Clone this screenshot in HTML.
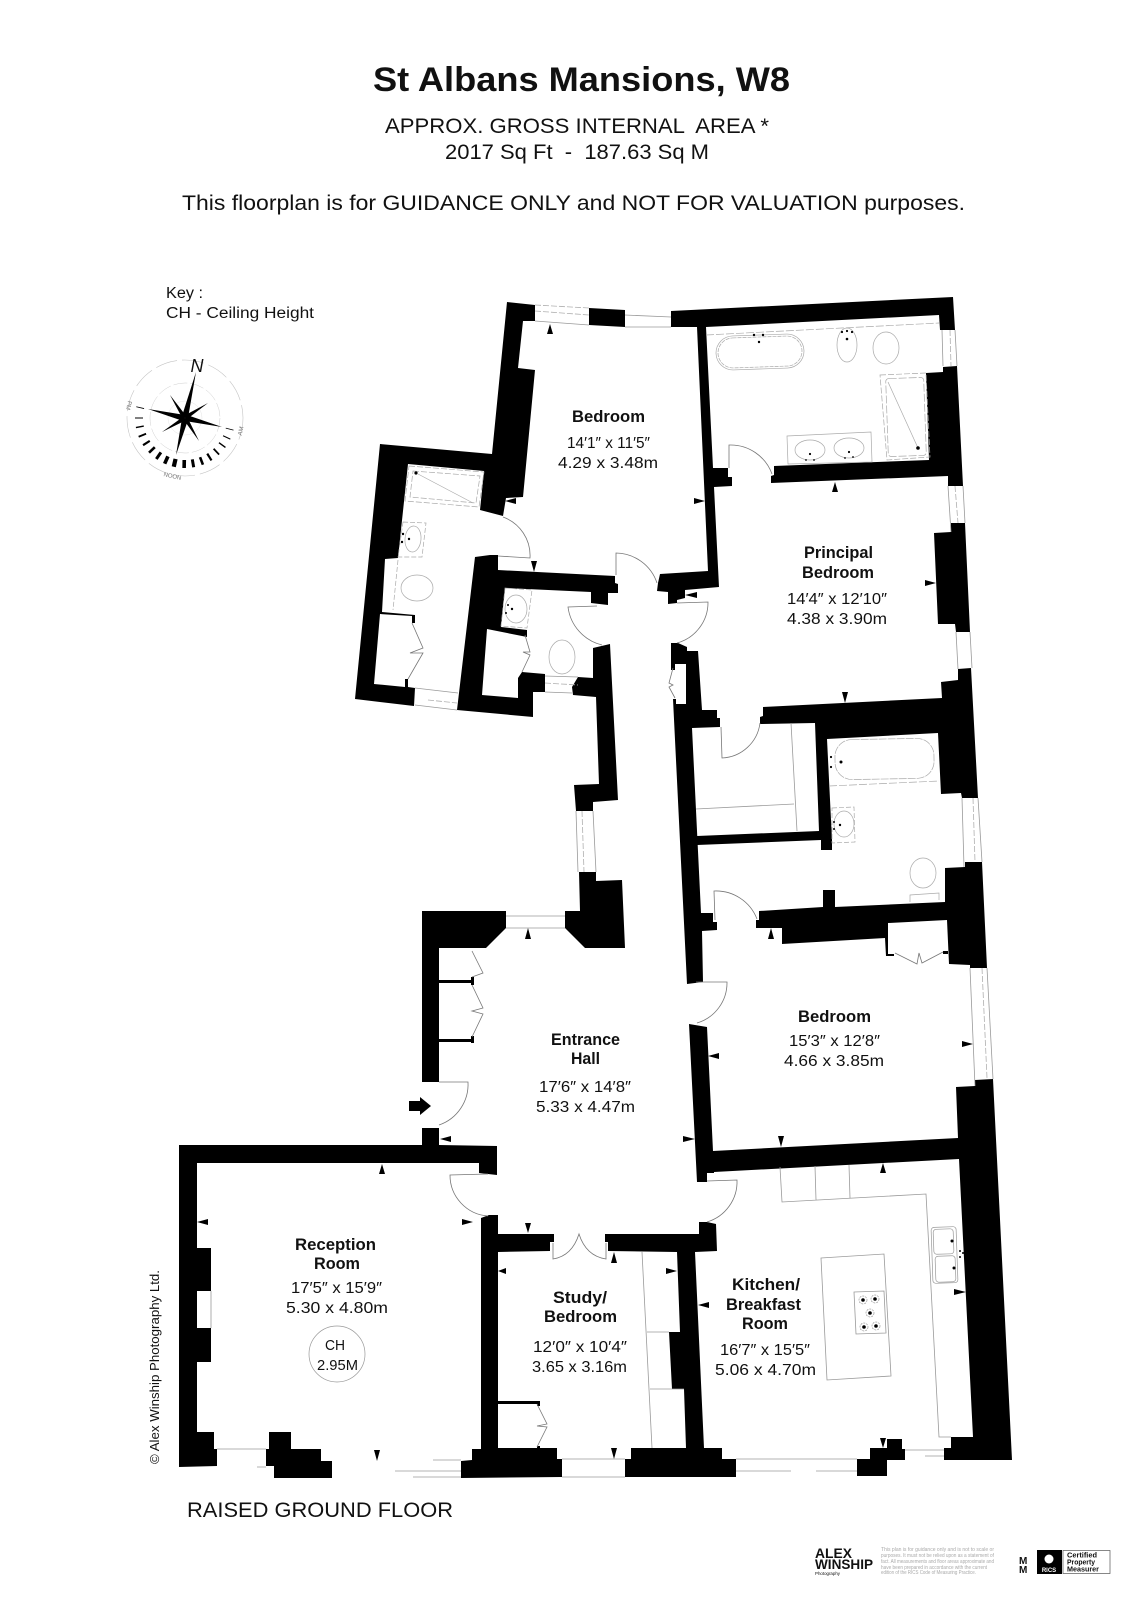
<!DOCTYPE html>
<html><head><meta charset="utf-8"><title>St Albans Mansions, W8</title>
<style>
html,body{margin:0;padding:0;background:#fff}
svg{display:block}
text{font-family:"Liberation Sans",sans-serif;fill:#111}
text.g{fill:#aaa}
text.p{fill:#777}
text.wt{fill:#fff}
.b{font-weight:700;font-size:16.5px;text-anchor:start}
.r{font-size:16px}
.w{fill:#000;stroke:none}
.l{fill:none;stroke:#9a9a9a;stroke-width:.8}
.d{fill:none;stroke:#b0b0b0;stroke-width:.8;stroke-dasharray:6 2}
.a{fill:none;stroke:#777;stroke-width:.8}
.t{fill:#000;stroke:none}
</style></head><body>
<svg xmlns="http://www.w3.org/2000/svg" width="1130" height="1600" viewBox="0 0 1130 1600">
<rect width="1130" height="1600" fill="#fff"/>

<!-- Header -->
<text x="373" y="91" font-size="34" font-weight="700" textLength="417" lengthAdjust="spacingAndGlyphs">St Albans Mansions, W8</text>
<text x="385" y="133" font-size="21" textLength="384" lengthAdjust="spacingAndGlyphs" xml:space="preserve">APPROX. GROSS INTERNAL  AREA *</text>
<text x="445" y="159" font-size="21" textLength="264" lengthAdjust="spacingAndGlyphs" xml:space="preserve">2017 Sq Ft  -  187.63 Sq M</text>
<text x="182" y="210" font-size="21" textLength="783" lengthAdjust="spacingAndGlyphs">This floorplan is for GUIDANCE ONLY and NOT FOR VALUATION purposes.</text>
<text x="166" y="298" font-size="15.5" textLength="37" lengthAdjust="spacingAndGlyphs">Key :</text>
<text x="166" y="318" font-size="15.5" textLength="148" lengthAdjust="spacingAndGlyphs">CH - Ceiling Height</text>

<!-- Compass -->
<g transform="translate(185,418)">
<circle r="58" fill="none" stroke="#c4c4c4" stroke-width=".6" stroke-dasharray="22 5"/>
<circle r="35" fill="none" stroke="#d0d0d0" stroke-width=".5" stroke-dasharray="14 3"/>
<circle r="17" fill="none" stroke="#ddd" stroke-width=".4"/>
<g fill="#000">
<polygon points="11,-46 3,0 -3,-2"/><polygon points="-9,37 -3,0 3,2"/>
<polygon points="-37,-9 0,-3 -2,3"/><polygon points="37,9 0,3 2,-3"/>
<polygon points="-15,-23 1.5,-1.5 -2,1.5"/><polygon points="14,23 -1.5,1.5 2,-1.5"/>
<polygon points="23,-15 1.5,1.5 -1.5,-2"/><polygon points="-23,14 -1.5,-1.5 1.5,2"/>
</g>
<g fill="#000">
<rect x="-.4" y="42" width=".8" height="8" transform="rotate(-76)"/>
<rect x="-.5" y="42" width="1" height="8" transform="rotate(-65)"/>
<rect x="-.7" y="42" width="1.4" height="8" transform="rotate(-54)"/>
<rect x="-.9" y="42" width="1.8" height="8" transform="rotate(-43)"/>
<rect x="-1.1" y="42" width="2.2" height="8" transform="rotate(-32)"/>
<rect x="-1.3" y="42" width="2.6" height="8" transform="rotate(-21)"/>
<rect x="-1.5" y="42" width="3" height="8" transform="rotate(-10)"/>
<rect x="-1.8" y="42" width="3.6" height="8" transform="rotate(1)"/>
<rect x="-2.1" y="42" width="4.2" height="8" transform="rotate(13)"/>
<rect x="-1.8" y="42" width="3.6" height="8" transform="rotate(24)"/>
<rect x="-1.5" y="42" width="3" height="8" transform="rotate(35)"/>
<rect x="-1.3" y="42" width="2.6" height="8" transform="rotate(46)"/>
<rect x="-1.1" y="42" width="2.2" height="8" transform="rotate(57)"/>
<rect x="-.9" y="42" width="1.8" height="8" transform="rotate(68)"/>
<rect x="-.7" y="42" width="1.4" height="8" transform="rotate(79)"/>
<rect x="-.5" y="42" width="1" height="8" transform="rotate(90)"/>
<rect x="-.4" y="42" width=".8" height="8" transform="rotate(103)"/>
</g>
</g>
<text x="197" y="372" font-size="18" text-anchor="middle" font-style="italic">N</text>
<text class="p" transform="translate(127,405) rotate(103)" font-size="6" text-anchor="middle">PM</text>
<text class="p" transform="translate(241,431) rotate(-76)" font-size="6" text-anchor="middle" dominant-baseline="middle">AM</text>
<text class="p" transform="translate(172,478) rotate(13)" font-size="6" text-anchor="middle">NOON</text>

<!-- Walls -->
<g class="w">
<polygon points="507,302 535,305 535,321 523,321 518,368 535,370 523,497 506,498 503,516 480,510 484,471 408,464 398,558 385,559 382,612 415,615 415,623 412,623 412,616 380,614 374,684 405,687 405,679 408,679 408,687 415,688 414,706 355,699 380,444 492,454"/>
<polygon points="589,308 625,310 625,327 589,325"/>
<polygon points="671,311 953,297 955,330 940,330 939,315 706,327 713,468 728,468 728,477 732,477 732,486 714,487 719,587 685,590 685,598 677,600 677,603 668,604 668,592 657,591 658,583 660,574 708,571 697,327 671,327"/>
<polygon points="475,557 490,555 498,555 498,570 615,576 615,583 618,584 618,593 608,593 608,605 591,603 591,592 505,588 501,627 527,630 527,637 487,629 482,695 518,698 518,678 522,672 545,674 545,692 533,692 533,717 457,710"/>
<polygon points="572,687 578,677 593,678 593,648 610,644 618,800 593,802 593,811 576,811 574,785 599,784 596,697 573,695"/>
<polygon points="579,872 596,872 596,881 622,880 625,948 585,948 565,928 565,911 580,911"/>
<polygon points="422,911 506,911 506,928 486,948 439,948 439,1082 422,1082"/>
<rect x="439" y="980" width="34" height="3"/><rect x="471" y="977" width="3" height="8"/>
<rect x="439" y="1039" width="34" height="3"/><rect x="471" y="1036" width="3" height="7"/>
<polygon points="422,1128 439,1128 439,1145 497,1146 497,1175 479,1173 479,1163 197,1163 197,1248 211,1248 211,1291 197,1291 197,1328 211,1328 211,1362 197,1362 197,1432 214,1432 214,1449 217,1449 217,1466 179,1467 179,1145 422,1145"/>
<polygon points="269,1432 291,1432 291,1449 321,1449 321,1461 332,1461 332,1478 274,1478 274,1466 266,1466 266,1449 269,1449"/>
<polygon points="481,1218 489,1215 498,1215 498,1234 554,1234 554,1242 550,1242 550,1251 498,1252 498,1448 557,1448 557,1459 562,1459 562,1477 461,1478 461,1461 472,1460 472,1449 481,1449"/>
<rect x="498" y="1401" width="42" height="3"/><rect x="537" y="1401" width="3" height="5"/><rect x="537" y="1446" width="3" height="3"/>
<polygon points="605,1234 699,1234 699,1222 707,1222 716,1224 717,1251 695,1252 704,1448 722,1448 722,1459 736,1459 736,1477 625,1477 625,1459 631,1459 631,1448 686,1448 684,1389 672,1389 669,1332 680,1332 677,1252 608,1251 608,1242 605,1242"/>
<polygon points="887,1439 902,1439 902,1449 905,1449 905,1460 887,1460 887,1476 857,1476 857,1459 870,1459 870,1448 887,1448"/>
<polygon points="943,367 957,366 963,486 948,486 948,476 771,483 771,476 774,475 774,466 929,460 926,373 943,372"/>
<polygon points="951,523 965,523 970,632 956,632 955,624 938,624 934,533 951,532"/>
<polygon points="958,669 971,668 978,798 962,798 961,793 941,794 938,733 827,739 832,840 832,850 821,850 821,840 697,845 697,836 819,831 815,723 760,724 760,717 763,716 763,707 942,698 941,682 958,680"/>
<polygon points="671,643 678,643 687,647 687,651 698,651 702,710 717,710 717,718 720,718 720,727 692,728 701,913 713,913 713,922 717,922 717,930 702,931 703,982 687,984 673,699 676,699 676,704 686,704 686,664 675,664 675,670 671,670"/>
<polygon points="759,911 823,907 823,890 835,890 835,907 945,902 945,868 965,867 965,862 982,862 987,968 970,968 970,965 949,964 947,920 888,923 888,954 894,954 894,956 886,956 885,938 782,944 782,928 756,928 756,920 759,920"/>
<rect x="943" y="951" width="5" height="3"/>
<polygon points="689,1024 707,1027 713,1151 958,1138 956,1087 975,1086 975,1080 993,1079 1012,1460 944,1460 944,1448 951,1448 951,1437 973,1437 959,1159 714,1172 714,1173 707,1173 707,1182 697,1182"/>
<polygon points="409,1101 420,1101 420,1097 431,1106 420,1115 420,1111 409,1111"/>
</g>

<!-- Doors -->
<g class="a">
<path d="M503,517A41,41 0 0 1 530,558L498,556"/>
<path d="M616,575V553A44,44 0 0 1 657,583"/>
<path d="M597,606L568,607A45,45 0 0 0 602,645"/>
<path d="M677,603L708,602A42,42 0 0 1 677,643"/>
<path d="M729,468V445A44,44 0 0 1 772,474"/>
<path d="M721,727L722,758A40,40 0 0 0 760,723"/>
<path d="M715,920L714,891A44,44 0 0 1 757,919"/>
<path d="M696,982H727A42,42 0 0 1 697,1023"/>
<path d="M439,1082H468A43,43 0 0 1 439,1125"/>
<path d="M488,1174L450,1175A41,41 0 0 0 488,1216"/>
<path d="M553,1243V1259Q572,1256 579,1234Q586,1256 606,1259V1243"/>
<path d="M707,1181L737,1180A42,42 0 0 1 707,1222"/>
<!-- bifolds -->
<path d="M412,623L423,648L410,653L423,653L408,679"/>
<path d="M525,635L530,652L523,652L530,655L522,672"/>
<path d="M673,668L669,683L673,685L669,687L675,698"/>
<path d="M472,951L483,973L472,977"/>
<path d="M472,985L483,1008L472,1011L483,1014L472,1037"/>
<path d="M895,953L917,964L919,953L922,963L943,952"/>
<path d="M537,1404L547,1424L537,1426L547,1427L537,1447"/>
</g>

<!-- Windows -->
<g class="l">
<path d="M535,321L589,325M625,315L671,317M625,327L671,327"/>
<path d="M415,705L457,710M415,688L458,693M545,692L572,693M545,676L578,677"/>
<path d="M955,330L957,366M942,330L943,366M948,486L951,532M963,486L965,523M956,632L958,669M970,632L972,668"/>
<path d="M576,811L578,872M593,811L596,872M506,916H565M506,928H565"/>
<path d="M962,798L964,867M978,798L982,862M970,968L975,1086M987,968L993,1079"/>
<path d="M211,1291V1328M217,1449H266M257,1467H266M395,1471H461M433,1460H461M413,1477H461"/>
<path d="M562,1459H625M562,1477H625M736,1459H857M736,1471H791M816,1471H857M905,1450H944M925,1456H944"/>
<!-- Kitchen units -->
<path d="M780,1167L782,1202L926,1194L939,1437L951,1437M815,1166L816,1200M849,1165L850,1198"/>
<polygon points="821,1258 884,1254 891,1376 827,1380"/>
<polygon points="854,1292 884,1291 886,1333 856,1334"/>
<path d="M642,1252L652,1448M647,1332H669M650,1389H684"/>
<path d="M791,723L797,831M696,809L794,804"/>
</g>
<g class="d">
<path d="M535,305L589,308M535,311L589,315M428,700L457,703M545,683L578,685"/>
<path d="M950,330L951,366M955,486L958,523M582,811L584,872M973,798L975,862M982,968L987,1078"/>
</g>

<!-- Kitchen sink, hob -->
<g fill="none" stroke="#999" stroke-width=".7">
<rect x="932" y="1227" width="25" height="56" rx="3" transform="rotate(-2 945 1255)"/>
<rect x="934" y="1229" width="20" height="25" rx="3" transform="rotate(-2 945 1255)"/>
<rect x="935" y="1256" width="20" height="26" rx="3" transform="rotate(-2 945 1255)"/>
<circle cx="863" cy="1300" r="4" stroke-dasharray="2 1"/><circle cx="875" cy="1299" r="4" stroke-dasharray="2 1"/><circle cx="870" cy="1313" r="4" stroke-dasharray="2 1"/><circle cx="864" cy="1327" r="4" stroke-dasharray="2 1"/><circle cx="876" cy="1326" r="4" stroke-dasharray="2 1"/>
</g>
<g fill="#000">
<circle cx="952" cy="1241" r="1.5"/><circle cx="954" cy="1268" r="1.5"/><circle cx="960" cy="1251" r="1"/><circle cx="960" cy="1257" r="1"/><circle cx="963" cy="1253" r="1"/>
<circle cx="863" cy="1300" r="1.8"/><circle cx="875" cy="1299" r="1.8"/><circle cx="870" cy="1313" r="1.8"/><circle cx="864" cy="1327" r="1.8"/><circle cx="876" cy="1326" r="1.8"/>
</g>

<!-- Sanitary -->
<g fill="none" stroke="#aaa" stroke-width=".7">
<!-- ensuite -->
<polygon points="409,466 484,472 479,507 405,501" stroke-dasharray="6 2"/>
<polygon points="413,471 480,476 476,503 410,497" stroke-dasharray="6 2"/>
<path d="M418,474L473,503"/>
<polygon points="403,522 426,523 422,557 398,557" stroke-dasharray="5 2"/>
<ellipse cx="413" cy="539" rx="8" ry="13" transform="rotate(5 413 539)"/>
<path d="M398,560L393,610" stroke-dasharray="5 2"/>
<ellipse cx="417" cy="588" rx="16" ry="13"/>
<!-- wc -->
<polygon points="505,588 532,590 527,628 501,626" stroke-dasharray="5 2"/>
<ellipse cx="516" cy="609" rx="11" ry="14"/>
<ellipse cx="562" cy="657" rx="13" ry="17"/>
<!-- principal bath -->
<path d="M706,335L939,323" stroke-dasharray="8 2"/>
<rect x="716" y="335" width="88" height="34" rx="17" transform="rotate(-2 760 352)"/>
<rect x="718" y="337" width="84" height="30" rx="15" transform="rotate(-2 760 352)" stroke-dasharray="4 1"/>
<ellipse cx="847" cy="345" rx="10" ry="17"/>
<ellipse cx="886" cy="348" rx="13" ry="16"/>
<polygon points="880,375 926,373 930,457 887,460" stroke-dasharray="6 2"/>
<rect x="887" y="378" width="38" height="78" rx="3" stroke-dasharray="8 2" transform="rotate(-2 906 417)"/>
<path d="M888,382L918,448"/>
<polygon points="787,436 871,432 872,462 788,464"/>
<ellipse cx="810" cy="450" rx="15" ry="10"/><ellipse cx="849" cy="448" rx="15" ry="10"/>
<!-- second bath -->
<rect x="835" y="739" width="99" height="40" rx="17" transform="rotate(-1 884 759)" stroke-dasharray="8 1"/>
<path d="M829,786L939,781" stroke-dasharray="8 2"/>
<polygon points="832,808 854,807 855,842 832,843" stroke-dasharray="5 2"/>
<ellipse cx="844" cy="824" rx="10" ry="13"/>
<ellipse cx="923" cy="873" rx="13" ry="15"/>
<path d="M910,902V895L939,893V900"/>
</g>
<g fill="#000">
<circle cx="416" cy="473" r="1.6"/><circle cx="403" cy="534" r="1.2"/><circle cx="402" cy="542" r="1.2"/><circle cx="409" cy="539" r="1.2"/>
<circle cx="508" cy="605" r="1"/><circle cx="506" cy="613" r="1"/><circle cx="512" cy="609" r="1.2"/>
<circle cx="754" cy="335" r="1.2"/><circle cx="763" cy="335" r="1.2"/><circle cx="759" cy="342" r="1.2"/>
<circle cx="842" cy="332" r="1.1"/><circle cx="847" cy="331" r="1.1"/><circle cx="852" cy="332" r="1.1"/><circle cx="847" cy="339" r="1.3"/>
<circle cx="918" cy="448" r="1.8"/>
<circle cx="810" cy="454" r="1.1"/><circle cx="806" cy="460" r=".9"/><circle cx="814" cy="460" r=".9"/>
<circle cx="849" cy="452" r="1.1"/><circle cx="845" cy="458" r=".9"/><circle cx="853" cy="457" r=".9"/>
<circle cx="831" cy="757" r="1.1"/><circle cx="831" cy="767" r="1.1"/><circle cx="841" cy="762" r="1.5"/>
<circle cx="834" cy="822" r="1"/><circle cx="834" cy="829" r="1"/><circle cx="840" cy="825" r="1.2"/>
</g>

<!-- Dimension ticks -->
<g class="t">
<polygon points="550,324 547,334 553,334"/><polygon points="835,482 832,492 838,492"/><polygon points="528,928 525,939 531,939"/><polygon points="771,928 768,939 774,939"/><polygon points="382,1164 379,1174 385,1174"/><polygon points="614,1252 611,1263 617,1263"/><polygon points="883,1163 880,1173 886,1173"/>
<polygon points="534,572 531,561 537,561"/><polygon points="845,703 842,692 848,692"/><polygon points="781,1147 778,1136 784,1136"/><polygon points="377,1461 374,1450 380,1450"/><polygon points="528,1233 525,1223 531,1223"/><polygon points="614,1459 611,1448 617,1448"/><polygon points="883,1448 880,1438 886,1438"/>
<polygon points="505,501 516,498 516,504"/><polygon points="685,595 697,592 697,598"/><polygon points="708,1056 719,1053 719,1059"/><polygon points="440,1139 451,1136 451,1142"/><polygon points="197,1222 208,1219 208,1225"/><polygon points="498,1271 506,1268 506,1274"/><polygon points="698,1305 709,1302 709,1308"/>
<polygon points="705,501 694,498 694,504"/><polygon points="936,583 925,580 925,586"/><polygon points="695,1139 683,1136 683,1142"/><polygon points="973,1044 962,1041 962,1047"/><polygon points="473,1222 462,1219 462,1225"/><polygon points="677,1271 666,1268 666,1274"/><polygon points="966,1292 954,1289 954,1295"/>
</g>

<!-- Room labels -->
<text class="b" x="572" y="422" textLength="73" lengthAdjust="spacingAndGlyphs">Bedroom</text>
<text class="r" x="567" y="448" textLength="83" lengthAdjust="spacingAndGlyphs">14′1″ x 11′5″</text>
<text class="r" x="558" y="468" textLength="100" lengthAdjust="spacingAndGlyphs">4.29 x 3.48m</text>

<text class="b" x="804" y="558" textLength="69" lengthAdjust="spacingAndGlyphs">Principal</text>
<text class="b" x="802" y="578" textLength="72" lengthAdjust="spacingAndGlyphs">Bedroom</text>
<text class="r" x="787" y="604" textLength="100" lengthAdjust="spacingAndGlyphs">14′4″ x 12′10″</text>
<text class="r" x="787" y="624" textLength="100" lengthAdjust="spacingAndGlyphs">4.38 x 3.90m</text>

<text class="b" x="551" y="1045" textLength="69" lengthAdjust="spacingAndGlyphs">Entrance</text>
<text class="b" x="571" y="1064" textLength="29" lengthAdjust="spacingAndGlyphs">Hall</text>
<text class="r" x="539" y="1092" textLength="92" lengthAdjust="spacingAndGlyphs">17′6″ x 14′8″</text>
<text class="r" x="536" y="1112" textLength="99" lengthAdjust="spacingAndGlyphs">5.33 x 4.47m</text>

<text class="b" x="798" y="1022" textLength="73" lengthAdjust="spacingAndGlyphs">Bedroom</text>
<text class="r" x="789" y="1046" textLength="91" lengthAdjust="spacingAndGlyphs">15′3″ x 12′8″</text>
<text class="r" x="784" y="1066" textLength="100" lengthAdjust="spacingAndGlyphs">4.66 x 3.85m</text>

<text class="b" x="295" y="1250" textLength="81" lengthAdjust="spacingAndGlyphs">Reception</text>
<text class="b" x="314" y="1269" textLength="46" lengthAdjust="spacingAndGlyphs">Room</text>
<text class="r" x="291" y="1293" textLength="91" lengthAdjust="spacingAndGlyphs">17′5″ x 15′9″</text>
<text class="r" x="286" y="1313" textLength="102" lengthAdjust="spacingAndGlyphs">5.30 x 4.80m</text>
<circle cx="337" cy="1354" r="28" fill="none" stroke="#999" stroke-width=".7"/>
<text x="325" y="1350" font-size="15" textLength="20" lengthAdjust="spacingAndGlyphs">CH</text>
<text x="317" y="1370" font-size="15" textLength="41" lengthAdjust="spacingAndGlyphs">2.95M</text>

<text class="b" x="553" y="1303" textLength="54" lengthAdjust="spacingAndGlyphs">Study/</text>
<text class="b" x="544" y="1322" textLength="73" lengthAdjust="spacingAndGlyphs">Bedroom</text>
<text class="r" x="533" y="1352" textLength="94" lengthAdjust="spacingAndGlyphs">12′0″ x 10′4″</text>
<text class="r" x="532" y="1372" textLength="95" lengthAdjust="spacingAndGlyphs">3.65 x 3.16m</text>

<text class="b" x="732" y="1290" textLength="68" lengthAdjust="spacingAndGlyphs">Kitchen/</text>
<text class="b" x="726" y="1310" textLength="75" lengthAdjust="spacingAndGlyphs">Breakfast</text>
<text class="b" x="742" y="1329" textLength="46" lengthAdjust="spacingAndGlyphs">Room</text>
<text class="r" x="720" y="1355" textLength="90" lengthAdjust="spacingAndGlyphs">16′7″ x 15′5″</text>
<text class="r" x="715" y="1375" textLength="101" lengthAdjust="spacingAndGlyphs">5.06 x 4.70m</text>

<text x="187" y="1517" font-size="21" textLength="266" lengthAdjust="spacingAndGlyphs">RAISED GROUND FLOOR</text>
<text transform="translate(159,1464) rotate(-90)" font-size="12.5" textLength="194" lengthAdjust="spacingAndGlyphs">© Alex Winship Photography Ltd.</text>

<!-- Footer -->
<text x="815" y="1558" font-size="14" font-weight="700" textLength="37" lengthAdjust="spacingAndGlyphs">ALEX</text>
<text x="815" y="1569" font-size="14" font-weight="700" textLength="58" lengthAdjust="spacingAndGlyphs">WINSHIP</text>
<text x="815" y="1575" font-size="4.5" textLength="25" lengthAdjust="spacingAndGlyphs">Photography</text>
<g font-size="5">
<text class="g" x="881" y="1551" textLength="113" lengthAdjust="spacingAndGlyphs">This plan is for guidance only and is not to scale or</text>
<text class="g" x="881" y="1557" textLength="113" lengthAdjust="spacingAndGlyphs">purposes. It must not be relied upon as a statement of</text>
<text class="g" x="881" y="1563" textLength="113" lengthAdjust="spacingAndGlyphs">fact. All measurements and floor areas approximate and</text>
<text class="g" x="881" y="1569" textLength="106" lengthAdjust="spacingAndGlyphs">have been prepared in accordance with the current</text>
<text class="g" x="881" y="1574" textLength="95" lengthAdjust="spacingAndGlyphs">edition of the RICS Code of Measuring Practice.</text>
</g>
<text x="1019" y="1564" font-size="10" font-weight="700">M</text><text x="1019" y="1573" font-size="10" font-weight="700">M</text>
<rect x="1037" y="1550" width="25" height="24" fill="#000"/>
<circle cx="1049" cy="1559" r="4.5" fill="#fff"/>
<text class="wt" x="1049" y="1572" font-size="6" font-weight="700" text-anchor="middle">RICS</text>
<rect x="1063" y="1550.5" width="47" height="23" fill="none" stroke="#555" stroke-width=".7"/>
<g font-size="7" font-weight="700">
<text x="1067" y="1557.5" textLength="30" lengthAdjust="spacingAndGlyphs">Certified</text>
<text x="1067" y="1564.5" textLength="28" lengthAdjust="spacingAndGlyphs">Property</text>
<text x="1067" y="1571.5" textLength="32" lengthAdjust="spacingAndGlyphs">Measurer</text>
</g>
</svg>
</body></html>
